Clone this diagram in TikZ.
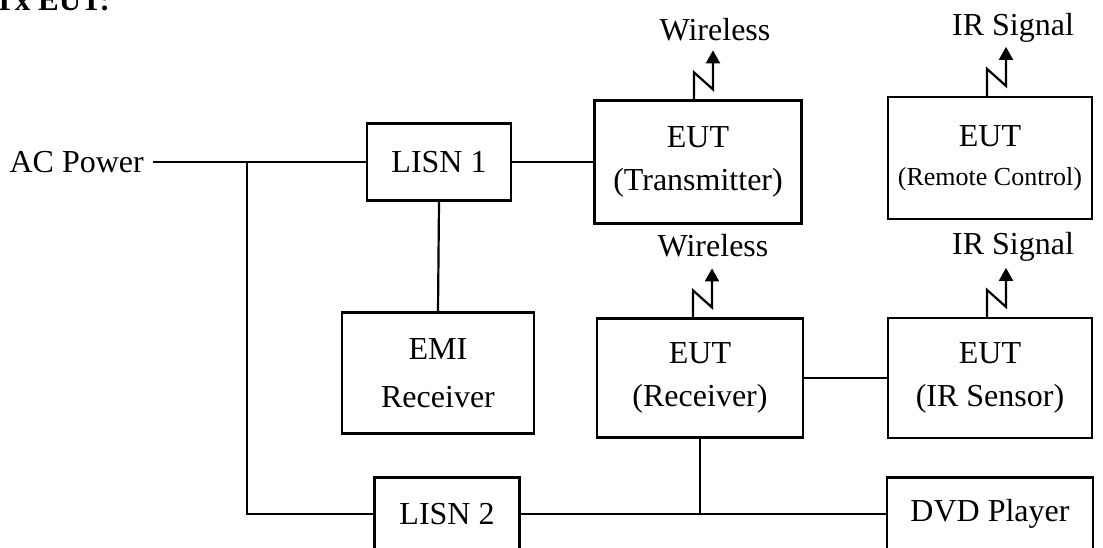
\documentclass[tikz,border=0pt]{standalone}
\usepackage{fontspec}
\setmainfont{Liberation Serif}
\usetikzlibrary{arrows.meta}
\begin{document}
\begin{tikzpicture}[x=1pt,y=-1pt,
  box/.style={draw,line width=2.2pt,rectangle,inner sep=0pt,align=center,font=\fontsize{32}{43}\selectfont},
  wire/.style={line width=2.2pt},
  lbl/.style={inner sep=0pt,font=\fontsize{32}{38}\selectfont},
  antenna/.style={line width=2.2pt,line join=miter,-{Triangle[length=13pt,width=14pt]}}]
\useasboundingbox (0,0) rectangle (1103,547);
\clip (0,0) rectangle (1103,547);

\node[anchor=base west,inner sep=0pt,font=\bfseries\fontsize{31}{36}\selectfont] (title) at (-6,10.5) {Tx EUT:};

\node[lbl,anchor=east,inner xsep=9pt] (ac) at (153,162) {AC Power};

\node[box,minimum width=144,minimum height=77] (lisn1) at (439,162) {LISN 1};
\node[box,minimum width=207,minimum height=123] (tx) at (698,162) {EUT\\(Transmitter)};
\node[box,minimum width=204,minimum height=122] (rc) at (990,158) {EUT\\[-4pt]{\fontsize{26}{30}\selectfont (Remote Control)}};
\node[box,minimum width=192,minimum height=121] (emi) at (438,373) {EMI\\[5pt]Receiver};
\node[box,minimum width=206,minimum height=119] (rx) at (700,378) {EUT\\(Receiver)};
\node[box,minimum width=204,minimum height=120] (irs) at (990,378) {EUT\\(IR Sensor)};
\node[box,minimum width=145,minimum height=73] (lisn2) at (447,514) {LISN 2};
\node[box,minimum width=206,minimum height=73] (dvd) at (990,514) {DVD Player};

\node[lbl] (w1) at (715,30) {Wireless};
\node[lbl] (ir1) at (1013,28) {IR Signal};
\node[lbl] (w2) at (713,246) {Wireless};
\node[lbl] (ir2) at (1013,247) {IR Signal};

\coordinate (j1) at (247,162);
\draw[wire] (ac.east) -- (lisn1.west);
\draw[wire] (j1) |- (lisn2.west);
\draw[wire] (lisn1.east) -- (tx.west);
\draw[wire] (lisn1.south) -- (emi.north);
\draw[wire] (rx.east) -- (irs.west);
\coordinate (j2) at (rx.south |- lisn2.east);
\draw[wire] (rx.south) -- (j2);
\draw[wire] (lisn2.east) -- (dvd.west);

\coordinate (a1) at ([xshift=-4pt]tx.north);
\coordinate (a2) at ([xshift=-3pt]rc.north);
\coordinate (a3) at ([xshift=-7pt]rx.north);
\coordinate (a4) at ([xshift=-3pt]irs.north);
\foreach \a in {a1,a2,a3,a4}
  \draw[antenna] (\a) -- ++(0,-27) -- ++(19,17) -- ++(0,-39);
\end{tikzpicture}
\end{document}
